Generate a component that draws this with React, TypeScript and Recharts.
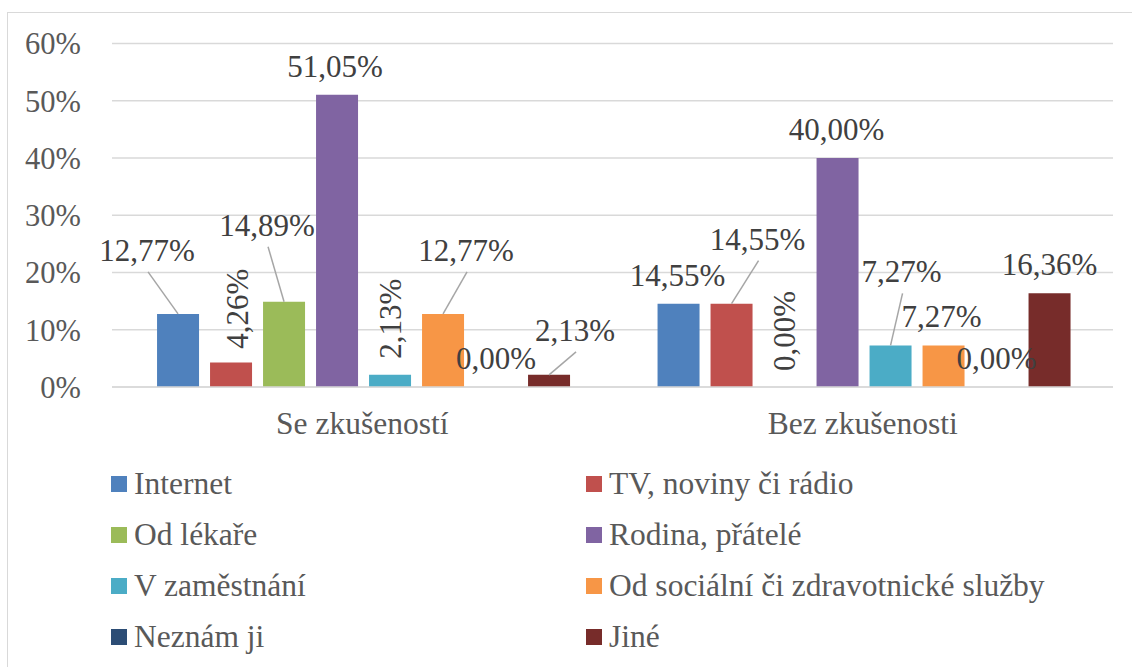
import React from "react";
import { BarChart, Bar, XAxis, YAxis, CartesianGrid, LabelList } from "recharts";

const categories = ["Se zkušeností", "Bez zkušenosti"];

const internet = [12.77, 14.55];
const tvNoviny = [4.26, 14.55];
const odLekare = [14.89, 0];
const rodina = [51.05, 40.0];
const zamestnani = [2.13, 7.27];
const socialni = [12.77, 7.27];
const neznam = [0, 0];
const jine = [2.13, 16.36];

const yTicks = [0, 10, 20, 30, 40, 50, 60];

const series = [
  { key: "internet", name: "Internet", values: internet, color: "#4F81BD" },
  { key: "tv", name: "TV, noviny či rádio", values: tvNoviny, color: "#C0504D" },
  { key: "lekar", name: "Od lékaře", values: odLekare, color: "#9BBB59" },
  { key: "rodina", name: "Rodina, přátelé", values: rodina, color: "#8064A2" },
  { key: "zam", name: "V zaměstnání", values: zamestnani, color: "#4BACC6" },
  { key: "soc", name: "Od sociální či zdravotnické služby", values: socialni, color: "#F79646" },
  { key: "neznam", name: "Neznám ji", values: neznam, color: "#2C4D75" },
  { key: "jine", name: "Jiné", values: jine, color: "#772C2A" },
];

const data = categories.map((name, i) => {
  const row: Record<string, string | number> = { name };
  series.forEach((s) => (row[s.key] = s.values[i]));
  return row;
});

// where Excel put each data label, relative to the top middle of its bar
type Spot = { dx: number; dy: number; rotate?: boolean; leader?: boolean };
const DEF: Spot = { dx: 0, dy: -29 };
const labelSpots: Record<string, Spot[]> = {
  internet: [{ dx: -31, dy: -64, leader: true }, { dx: -1, dy: -29 }],
  tv: [{ dx: 6, dy: -54, rotate: true }, { dx: 26, dy: -65, leader: true }],
  lekar: [{ dx: -17, dy: -77, leader: true }, { dx: 0, dy: -56, rotate: true }],
  rodina: [{ dx: -2, dy: -29 }, { dx: -1, dy: -29 }],
  zam: [{ dx: 0, dy: -56, rotate: true }, { dx: 11, dy: -74, leader: true }],
  soc: [{ dx: 23, dy: -64, leader: true }, { dx: -2, dy: -29 }],
  neznam: [DEF, DEF],
  jine: [{ dx: 26, dy: -45, leader: true }, DEF],
};

const FONT = "Liberation Serif, Tinos, Times New Roman, DejaVu Serif, serif";

const fmt = (v: number) => v.toFixed(2).replace(".", ",") + "%";

const makeLabel = (key: string) => (props: any) => {
  const { x, y, width, height, value, index } = props;
  const spot = labelSpots[key][index] || DEF;
  const cx = Number(x) + Number(width) / 2;
  // top edge of the bar, whichever way the rect was given
  const top = Math.min(Number(y), Number(y) + Number(height || 0));
  const lx = cx + spot.dx;
  const ly = top + spot.dy;
  return (
    <g>
      {spot.leader && (
        <line x1={lx + 1} y1={ly + 22} x2={cx} y2={top} stroke="#a6a6a6" strokeWidth={1.5} />
      )}
      <text
        x={lx}
        y={ly}
        dy="0.35em"
        textAnchor="middle"
        style={{ fontFamily: FONT, fontSize: 31 }}
        fill="#404040"
        transform={spot.rotate ? `rotate(-90, ${lx}, ${ly})` : undefined}
      >
        {fmt(Number(value))}
      </text>
    </g>
  );
};

export default function App() {
  return (
    <div
      style={{
        position: "absolute",
        left: 0,
        top: 0,
        width: 1132,
        height: 667,
        overflow: "hidden",
        background: "#fff",
        fontFamily: FONT,
      }}
    >
      <div
        style={{
          position: "absolute",
          left: 7,
          top: 12,
          width: 1300,
          height: 800,
          border: "1.5px solid #d9d9d9",
        }}
      />
      <div style={{ position: "absolute", left: 0, top: 0 }}>
        <BarChart
          width={1132}
          height={460}
          data={data}
          margin={{ top: 43.5, right: 19, left: 0, bottom: 0 }}
          barCategoryGap="9%"
          barGap={11}
          style={{ fontFamily: FONT }}
        >
          <CartesianGrid vertical={false} stroke="#d9d9d9" strokeWidth={1.5} />
          <XAxis
            dataKey="name"
            height={73}
            axisLine={{ stroke: "#d9d9d9", strokeWidth: 1.5 }}
            tickLine={false}
            tickSize={0}
            tickMargin={25}
            tick={{ fontFamily: FONT, fontSize: 31.5, fill: "#595959" }}
          />
          <YAxis
            width={112}
            domain={[0, 60]}
            ticks={yTicks}
            interval={0}
            axisLine={false}
            tickLine={false}
            tickSize={0}
            tickMargin={31}
            tickFormatter={(v: number) => `${v}%`}
            tick={{ fontFamily: FONT, fontSize: 30.5, fill: "#595959" }}
          />
          {series.map((s) => (
            <Bar
              key={s.key}
              dataKey={s.key}
              name={s.name}
              fill={s.color}
              minPointSize={0.01}
              isAnimationActive={false}
            >
              <LabelList dataKey={s.key} content={makeLabel(s.key)} />
            </Bar>
          ))}
        </BarChart>
      </div>
      <svg width={1132} height={667} style={{ position: "absolute", left: 0, top: 0 }}>
        {series.map((s, i) => {
          const col = i % 2;
          const row = Math.floor(i / 2);
          const sx = col === 0 ? 111 : 586;
          const cy = 484 + row * 51;
          return (
            <g key={s.key}>
              <rect x={sx} y={cy - 8} width={16} height={16} fill={s.color} />
              <text
                x={sx + 23}
                y={cy + 10}
                style={{ fontFamily: FONT, fontSize: 31.5 }}
                fill="#595959"
              >
                {s.name}
              </text>
            </g>
          );
        })}
      </svg>
    </div>
  );
}
